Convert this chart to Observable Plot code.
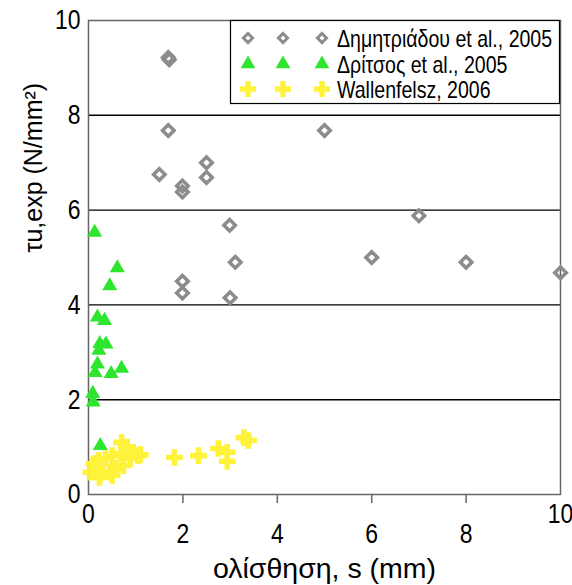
<!DOCTYPE html>
<html>
<head>
<meta charset="utf-8">
<script src="https://cdn.jsdelivr.net/npm/d3@7"></script>
<script src="https://cdn.jsdelivr.net/npm/@observablehq/plot@0.6"></script>
<style>
  html, body { margin: 0; padding: 0; background: #fff; }
  #chart { width: 572px; height: 585px; }
  svg { font-family: "Liberation Sans", Arial, sans-serif; }
</style>
</head>
<body>
<div id="chart"></div>
<script>
// Series names
const seriesNames = ["Δημητριάδου et al., 2005", "Δρίτσος et al., 2005", "Wallenfelsz, 2006"];
const xTitle = ["ολίσθηση, s (mm)"];
const yTitle = ["τu,exp (N/mm²)"];

// Δημητριάδου et al., 2005 (gray open diamonds)
const dimX = [1.69, 1.71, 1.69, 1.50, 1.99, 1.99, 2.50, 2.50, 5.00, 2.99, 3.11, 3.00, 6.00, 7.00, 8.00, 10.0, 1.99, 1.99];
const dimY = [9.22, 9.17, 7.68, 6.75, 6.51, 6.38, 7.00, 6.69, 7.68, 5.68, 4.90, 4.15, 5.00, 5.88, 4.90, 4.68, 4.50, 4.25];

// Δρίτσος et al., 2005 (green triangles)
const driX = [0.13, 0.61, 0.45, 0.19, 0.34, 0.24, 0.37, 0.22, 0.19, 0.14, 0.48, 0.70, 0.09, 0.10, 0.25];
const driY = [5.53, 4.78, 4.40, 3.74, 3.67, 3.18, 3.17, 3.04, 2.75, 2.57, 2.55, 2.66, 2.13, 1.95, 1.03];

// Wallenfelsz, 2006 (yellow crosses)
const walX = [3.29, 3.39, 2.75, 2.94, 2.94, 2.33, 1.82, 0.70, 0.82, 0.95, 1.05, 0.68, 0.50, 0.36, 0.21, 0.11, 0.05, 0.25, 0.47, 0.57, 0.74, 0.89, 0.19, 0.23, 0.50, 1.10];
const walY = [1.20, 1.14, 0.97, 0.89, 0.70, 0.82, 0.78, 1.10, 1.00, 0.89, 0.82, 0.86, 0.82, 0.76, 0.72, 0.65, 0.47, 0.44, 0.47, 0.55, 0.61, 0.76, 0.55, 0.36, 0.40, 0.84];

// Axis ticks
const yTicks = [0, 2, 4, 6, 8, 10];
const xTicksEdge = [0, 10];
const xTicksInner = [2, 4, 6, 8];
const gridY = [2, 4, 6, 8];

const colGray = "#8c8c8c", colGreen = "#2ee62e", colYellow = "#fff23a";
const font = "'Liberation Sans', Arial, sans-serif";

const dim = dimX.map((x, i) => ({x, y: dimY[i]}));
const dri = driX.map((x, i) => ({x, y: driY[i]}));
const wal = walX.map((x, i) => ({x, y: walY[i]}));

const W = 572, H = 585;
const chart = Plot.plot({
  width: W,
  height: H,
  marginLeft: 88,
  marginRight: 12,
  marginTop: 20,
  marginBottom: 91,
  style: {fontFamily: font, fontSize: "22px", color: "#000", background: "#fff", overflow: "visible"},
  x: {domain: [0, 10]},
  y: {domain: [0, 10]},
  marks: [
    Plot.ruleY(gridY, {stroke: "#000", strokeWidth: 1.4}),
    Plot.frame({stroke: "#666", strokeWidth: 1.5}),
    Plot.axisY(yTicks, {tickSize: 0, tickPadding: 8, fontSize: 28, label: null}),
    Plot.axisX(xTicksInner, {tickSize: 9, stroke: "#666", strokeWidth: 1.5, tickFormat: () => "", label: null}),
    Plot.text(xTicksInner, {x: d => d, text: d => String(d), frameAnchor: "bottom", lineAnchor: "middle", dy: 40, fontSize: 28, fill: "#000"}),
    Plot.text(xTicksEdge, {x: d => d, text: d => String(d), frameAnchor: "bottom", lineAnchor: "middle", dy: 20, fontSize: 28, fill: "#000"}),
    Plot.text(xTitle, {text: d => d, frameAnchor: "bottom", lineAnchor: "middle", dy: 74, fontSize: 28.5, fill: "#000"}),
    Plot.text(yTitle, {text: d => d, frameAnchor: "left", lineAnchor: "middle", dx: -55, dy: -5, rotate: -90, fontSize: 25, fill: "#000"}),
    Plot.dot(dim, {x: "x", y: "y", symbol: "diamond2", r: 5.2, stroke: colGray, strokeWidth: 3.5, fill: "none"}),
    Plot.dot(dri, {x: "x", y: "y", symbol: "triangle", r: 5.6, fill: colGreen, stroke: "none"}),
    Plot.dot(wal, {x: "x", y: "y", symbol: "cross", r: 7, fill: colYellow, stroke: "none"})
  ]
});
document.getElementById("chart").appendChild(chart);

const svg = d3.select(chart);
// Tick-label digits: condensed horizontally (reference uses a narrow face)
svg.selectAll("text").each(function () {
  if (/^\d+$/.test((this.textContent || "").trim())) {
    this.style.fontSize = "28px";
    const t = this.getAttribute("transform") || "";
    this.setAttribute("transform", t + " scale(0.82,1)");
  }
});

// Legend box inside plot (top-right)
const lg = svg.append("g").attr("class", "legend");
lg.append("rect").attr("x", 230.5).attr("y", 20.5).attr("width", 329).attr("height", 83)
  .attr("fill", "#fff").attr("stroke", "#000").attr("stroke-width", 1.2);
const rows = [
  {name: seriesNames[0], sym: d3.symbolDiamond2, size: Math.PI * 4.1 * 4.1, fill: "none", stroke: colGray, sw: 3},
  {name: seriesNames[1], sym: d3.symbolTriangle, size: Math.PI * 5.5 * 5.5, fill: colGreen, stroke: "none", sw: 0},
  {name: seriesNames[2], sym: d3.symbolCross, size: Math.PI * 6.8 * 6.8, fill: colYellow, stroke: "none", sw: 0}
];
const rowY = [38, 64, 89];
const symX = [248, 283, 322];
rows.forEach((r, i) => {
  symX.forEach(sx => {
    lg.append("path").attr("d", d3.symbol(r.sym, r.size)())
      .attr("transform", `translate(${sx},${rowY[i]})`)
      .attr("fill", r.fill).attr("stroke", r.stroke).attr("stroke-width", r.sw);
  });
  lg.append("text").attr("transform", `translate(337,${rowY[i] + 8.5}) scale(0.815,1)`)
    .attr("text-anchor", "start")
    .style("font-family", font).attr("font-size", 24).attr("fill", "#000").text(r.name);
});
</script>
</body>
</html>
